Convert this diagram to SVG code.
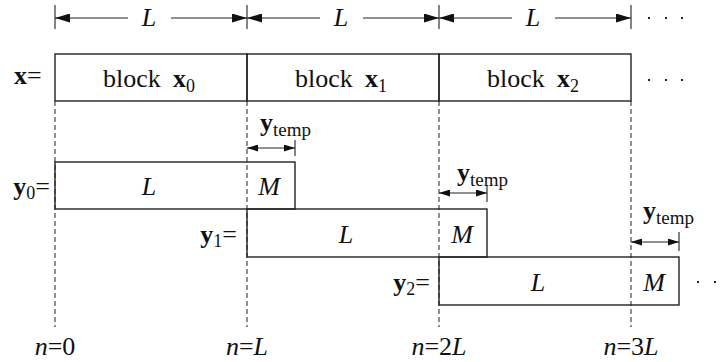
<svg xmlns="http://www.w3.org/2000/svg" width="724" height="362" viewBox="0 0 724 362">
<defs>
<style>
text{font-family:"Liberation Serif","Times New Roman",serif;fill:#111;font-size:26px}
.b{font-weight:bold}
.i{font-style:italic}
.sub{font-size:18px}
.tmp{font-size:19px}
.box{fill:none;stroke:#222;stroke-width:1.4}
.dash{fill:none;stroke:#222;stroke-width:1;stroke-dasharray:5 3}
.tick{stroke:#333;stroke-width:1.2}
.dim{stroke:#222;stroke-width:1;fill:none}
.big{marker-end:url(#ah)}
.bigs{marker-start:url(#ah)}
.sm{marker-start:url(#as);marker-end:url(#as)}
.dot{fill:#222}
</style>
<marker id="ah" markerUnits="userSpaceOnUse" markerWidth="15" markerHeight="9" refX="15" refY="4.5" orient="auto-start-reverse"><path d="M0,0 L15,4.5 L0,9 z" fill="#111"/></marker>
<marker id="as" markerUnits="userSpaceOnUse" markerWidth="11" markerHeight="7" refX="11" refY="3.5" orient="auto-start-reverse"><path d="M0,0 L11,3.5 L0,7 z" fill="#111"/></marker>
</defs>
<rect width="724" height="362" fill="#fff"/>

<g id="connectors">
<line class="tick" x1="55" y1="5" x2="55" y2="29"/>
<line class="tick" x1="247" y1="5" x2="247" y2="29"/>
<line class="tick" x1="439" y1="5" x2="439" y2="29"/>
<line class="tick" x1="631" y1="5" x2="631" y2="29"/>
<line class="dim bigs" x1="55" y1="18" x2="128" y2="18"/>
<line class="dim big" x1="171" y1="18" x2="247" y2="18"/>
<line class="dim bigs" x1="247" y1="18" x2="320" y2="18"/>
<line class="dim big" x1="363" y1="18" x2="439" y2="18"/>
<line class="dim bigs" x1="439" y1="18" x2="512" y2="18"/>
<line class="dim big" x1="555" y1="18" x2="631" y2="18"/>
<line class="dash" x1="55" y1="101" x2="55" y2="327"/>
<line class="dash" x1="247" y1="101" x2="247" y2="327"/>
<line class="dash" x1="439" y1="101" x2="439" y2="327"/>
<line class="dash" x1="631" y1="101" x2="631" y2="327"/>
<line class="tick" x1="295" y1="140" x2="295" y2="156"/>
<line class="dim sm" x1="247" y1="148" x2="295" y2="148"/>
<line class="tick" x1="487" y1="185" x2="487" y2="202"/>
<line class="dim sm" x1="439" y1="193" x2="487" y2="193"/>
<line class="tick" x1="679" y1="232" x2="679" y2="251"/>
<line class="dim sm" x1="631" y1="242" x2="679" y2="242"/>
</g>

<g id="dim-labels">
<text class="i" x="149" y="26" text-anchor="middle">L</text>
<text class="i" x="341" y="26" text-anchor="middle">L</text>
<text class="i" x="533" y="26" text-anchor="middle">L</text>
<rect class="dot" x="648" y="17" width="2" height="2"/>
<rect class="dot" x="665" y="17" width="2" height="2"/>
<rect class="dot" x="681" y="17" width="2" height="2"/>
</g>

<g id="x-row">
<text x="14" y="84"><tspan class="b">x</tspan>=</text>
<rect class="dot" x="648" y="79" width="2" height="2"/>
<rect class="dot" x="665" y="79" width="2" height="2"/>
<rect class="dot" x="681" y="79" width="2" height="2"/>
</g>
<g id="block-x0">
<rect class="box" x="55" y="54" width="192" height="47"/>
<text x="149" y="87" text-anchor="middle">block<tspan class="b" dx="12">x</tspan><tspan class="sub" dy="5">0</tspan></text>
</g>
<g id="block-x1">
<rect class="box" x="247" y="54" width="192" height="47"/>
<text x="341" y="87" text-anchor="middle">block<tspan class="b" dx="12">x</tspan><tspan class="sub" dy="5">1</tspan></text>
</g>
<g id="block-x2">
<rect class="box" x="439" y="54" width="192" height="47"/>
<text x="533" y="87" text-anchor="middle">block<tspan class="b" dx="12">x</tspan><tspan class="sub" dy="5">2</tspan></text>
</g>

<g id="y0">
<rect class="box" x="55" y="162" width="240" height="47"/>
<text x="50" y="195" text-anchor="end"><tspan class="b">y</tspan><tspan class="sub" dy="4">0</tspan><tspan dy="-4">=</tspan></text>
<text class="i" x="149" y="195" text-anchor="middle">L</text>
<text class="i" x="269" y="195" text-anchor="middle">M</text>
<text x="260" y="131"><tspan class="b">y</tspan><tspan class="tmp" dy="5">temp</tspan></text>
</g>
<g id="y1">
<rect class="box" x="247" y="209" width="240" height="48"/>
<text x="237" y="243" text-anchor="end"><tspan class="b">y</tspan><tspan class="sub" dy="4">1</tspan><tspan dy="-4">=</tspan></text>
<text class="i" x="346" y="243" text-anchor="middle">L</text>
<text class="i" x="462" y="243" text-anchor="middle">M</text>
<text x="457" y="181"><tspan class="b">y</tspan><tspan class="tmp" dy="5">temp</tspan></text>
</g>
<g id="y2">
<rect class="box" x="439" y="257" width="240" height="48"/>
<text x="430" y="291" text-anchor="end"><tspan class="b">y</tspan><tspan class="sub" dy="4">2</tspan><tspan dy="-4">=</tspan></text>
<text class="i" x="538" y="291" text-anchor="middle">L</text>
<text class="i" x="654" y="291" text-anchor="middle">M</text>
<text x="643" y="219"><tspan class="b">y</tspan><tspan class="tmp" dy="5">temp</tspan></text>
<rect class="dot" x="697" y="281" width="2" height="2"/>
<rect class="dot" x="714" y="281" width="2" height="2"/>
</g>

<g id="axis-labels">
<text x="55" y="355" text-anchor="middle"><tspan class="i">n</tspan>=0</text>
<text x="247" y="355" text-anchor="middle"><tspan class="i">n</tspan>=<tspan class="i">L</tspan></text>
<text x="439" y="355" text-anchor="middle"><tspan class="i">n</tspan>=2<tspan class="i">L</tspan></text>
<text x="631" y="355" text-anchor="middle"><tspan class="i">n</tspan>=3<tspan class="i">L</tspan></text>
</g>
</svg>
